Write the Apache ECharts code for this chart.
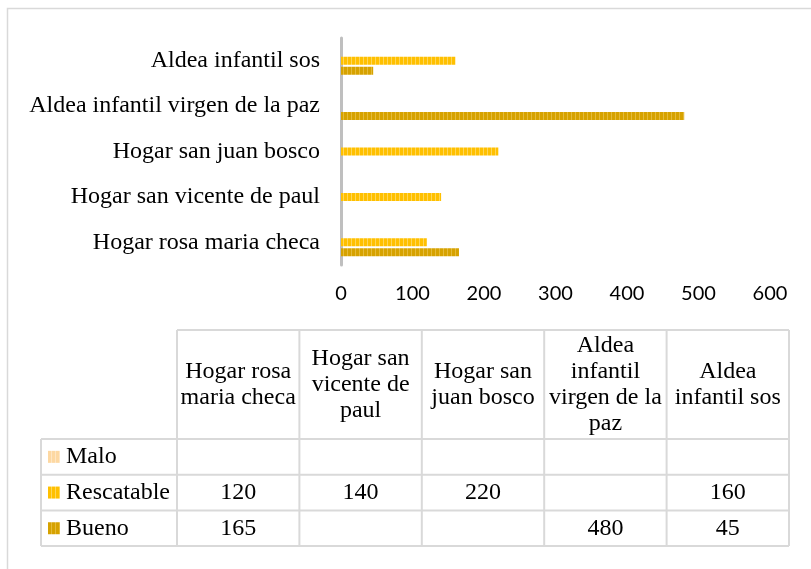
<!DOCTYPE html>
<html>
<head>
<meta charset="utf-8">
<script src="https://cdn.jsdelivr.net/npm/echarts@6/dist/echarts.min.js"></script>
<style>
  html, body { margin: 0; padding: 0; background: #fff; }
  #chart { width: 811px; height: 569px; }
</style>
</head>
<body>
<div id="chart"></div>
<script>
// data
var categories = ['Hogar rosa maria checa', 'Hogar san vicente de paul', 'Hogar san juan bosco', 'Aldea infantil virgen de la paz', 'Aldea infantil sos']
var headerLabels = ['Hogar rosa\nmaria checa', 'Hogar san\nvicente de\npaul', 'Hogar san\njuan bosco', 'Aldea\ninfantil\nvirgen de la\npaz', 'Aldea\ninfantil sos']
var seriesNames = ['Malo', 'Rescatable', 'Bueno']
var malo = [null, null, null, null, null]
var rescatable = [120, 140, 220, null, 160]
var bueno = [165, null, null, 480, 45]
var xTicks = [0, 100, 200, 300, 400, 500, 600]

var baseColors = ['#FDD8A2', '#FFC000', '#D6A200']
var stripeColors = ['#FEE6C4', '#FFD659', '#E5BA3A']

function stripes(base, light) {
    var c = document.createElement('canvas')
    c.width = 4; c.height = 4
    var ctx = c.getContext('2d')
    ctx.fillStyle = base
    ctx.fillRect(0, 0, 4, 4)
    ctx.fillStyle = light
    ctx.fillRect(3, 0, 1, 4)
    return { image: c, repeat: 'repeat' }
}

var fills = baseColors.map(function (b, i) { return stripes(b, stripeColors[i]) })
var seriesData = [malo, rescatable, bueno]

var serif = '"Liberation Serif", "DejaVu Serif", serif'
var tableFont = '24px ' + serif
var echart = echarts.init(document.getElementById('chart'))

// table geometry
var colX0 = 177, colW = 122.4
var legendX0 = 41
var headTop = 330, headBottom = 439
var rowH = 35.7
var lineColor = '#D9D9D9'

var graphics = []
// outer frame
graphics.push({ type: 'rect', shape: { x: 7.5, y: 8.5, width: 830, height: 600 }, style: { fill: 'none', stroke: lineColor, lineWidth: 1.5 }, silent: true })

var tableRight = colX0 + colW * categories.length
var tableBottom = headBottom + rowH * seriesNames.length
// horizontal lines
graphics.push({ type: 'line', shape: { x1: colX0, y1: headTop, x2: tableRight, y2: headTop }, style: { stroke: lineColor, lineWidth: 2 } })
for (var r = 0; r <= seriesNames.length; r++) {
    var yy = headBottom + rowH * r
    graphics.push({ type: 'line', shape: { x1: legendX0, y1: yy, x2: tableRight, y2: yy }, style: { stroke: lineColor, lineWidth: 2 } })
}
// vertical lines
graphics.push({ type: 'line', shape: { x1: legendX0, y1: headBottom, x2: legendX0, y2: tableBottom }, style: { stroke: lineColor, lineWidth: 2 } })
for (var c = 0; c <= categories.length; c++) {
    var xx = colX0 + colW * c
    graphics.push({ type: 'line', shape: { x1: xx, y1: headTop, x2: xx, y2: tableBottom }, style: { stroke: lineColor, lineWidth: 2 } })
}
// header texts
headerLabels.forEach(function (h, i) {
    graphics.push({
        type: 'text',
        x: colX0 + colW * (i + 0.5),
        y: (headTop + headBottom) / 2,
        style: { text: h, font: tableFont, fill: '#000', align: 'center', verticalAlign: 'middle', lineHeight: 26 }
    })
})
// legend cells and values
seriesNames.forEach(function (name, r) {
    var cy = headBottom + rowH * (r + 0.5)
    graphics.push({ type: 'rect', shape: { x: 48, y: cy - 6, width: 12, height: 12 }, style: { fill: fills[r] } })
    graphics.push({ type: 'text', x: 66, y: cy, style: { text: name, font: tableFont, fill: '#000', align: 'left', verticalAlign: 'middle' } })
    seriesData[r].forEach(function (v, i) {
        if (v == null) return
        graphics.push({
            type: 'text',
            x: colX0 + colW * (i + 0.5),
            y: cy,
            style: { text: String(v), font: tableFont, fill: '#000', align: 'center', verticalAlign: 'middle' }
        })
    })
})

option = {
    animation: false,
    grid: { left: 341, right: 41, top: 38, bottom: 304, containLabel: false },
    xAxis: {
        type: 'value',
        min: xTicks[0],
        max: xTicks[xTicks.length - 1],
        interval: 100,
        axisLine: { show: false },
        axisTick: { show: false },
        splitLine: { show: false },
        axisLabel: { fontFamily: 'Lato', fontSize: 20, color: '#000', margin: 19 }
    },
    yAxis: {
        type: 'category',
        data: categories,
        axisLine: { show: true, lineStyle: { color: '#BFBFBF', width: 3 } },
        axisTick: { show: false },
        axisLabel: { fontFamily: serif, fontSize: 24, color: '#000', margin: 21 }
    },
    series: seriesNames.map(function (name, i) {
        return {
            name: name,
            type: 'bar',
            data: seriesData[i],
            barWidth: 8,
            barGap: '25%',
            itemStyle: { color: fills[i] }
        }
    }),
    graphic: graphics
}

echart.setOption(option)
</script>
</body>
</html>
